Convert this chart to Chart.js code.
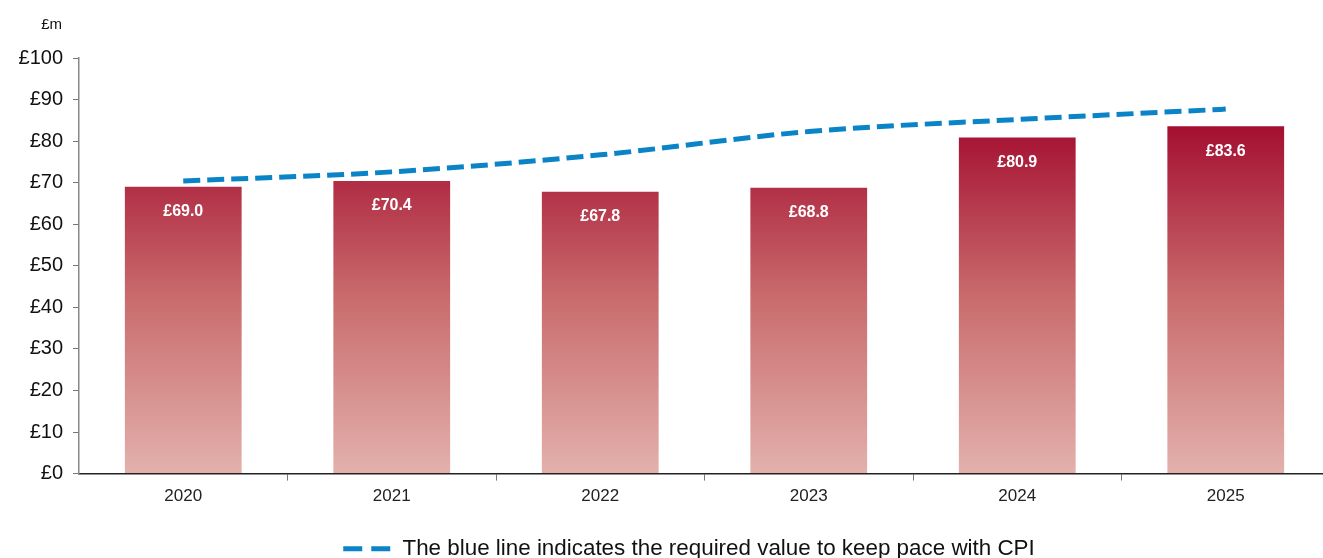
<!DOCTYPE html>
<html>
<head>
<meta charset="utf-8">
<script src="https://cdn.jsdelivr.net/npm/chart.js@4.4.1/dist/chart.umd.min.js"></script>
<style>
  html, body { margin: 0; padding: 0; background: #fff; overflow: hidden; }
  #wrap { width: 1330px; height: 558px; position: relative; }
</style>
</head>
<body>
<div id="wrap"><canvas id="myChart"></canvas></div>
<script>
(function () {
  'use strict'

  // Data
  var years = ['2020', '2021', '2022', '2023', '2024', '2025']
  var actualValues = [69.0, 70.4, 67.8, 68.8, 80.9, 83.6]
  var cpiValues = [70.4, 72.6, 76.7, 82.3, 85.2, 87.7]
  var yTicks = [0, 10, 20, 30, 40, 50, 60, 70, 80, 90, 100]
  var legendText = 'The blue line indicates the required value to keep pace with CPI'

  var FONT = "'Liberation Sans', Arial, sans-serif"

  function barGradient(context) {
    var chart = context.chart
    var area = chart.chartArea
    if (!area) return '#b3303f'
    var y = chart.scales.y
    var g = chart.ctx.createLinearGradient(0, y.getPixelForValue(0), 0, y.getPixelForValue(85))
    g.addColorStop(0, '#e3b1ac')
    g.addColorStop(0.5, '#c96b6d')
    g.addColorStop(1, '#a30c2f')
    return g
  }

  // white value labels inside the bars
  var barLabels = {
    id: 'barLabels',
    afterDatasetsDraw: function (chart) {
      var ctx = chart.ctx
      var meta = chart.getDatasetMeta(0)
      ctx.save()
      ctx.fillStyle = '#ffffff'
      ctx.font = 'bold 16px ' + FONT
      ctx.textAlign = 'center'
      ctx.textBaseline = 'middle'
      meta.data.forEach(function (bar, i) {
        ctx.fillText('£' + actualValues[i].toFixed(1), bar.x, bar.y + 25)
      })
      ctx.restore()
    }
  }

  // unit label above the y axis
  var unitLabel = {
    id: 'unitLabel',
    afterDraw: function (chart) {
      var ctx = chart.ctx
      ctx.save()
      ctx.fillStyle = '#111'
      ctx.font = '15px ' + FONT
      ctx.textAlign = 'right'
      ctx.textBaseline = 'middle'
      ctx.fillText('£m', 62, 25)
      ctx.restore()
    }
  }

  // legend sits a bit right of the page centre in the original
  var legendShift = {
    id: 'legendShift',
    afterLayout: function (chart) {
      if (!chart.legend) return
      chart.legend.left += 24
      chart.legend.right += 24
    }
  }

  // eslint-disable-next-line no-unused-vars
  var myChart = new Chart(document.getElementById('myChart'), {
    type: 'bar',
    data: {
      labels: years,
      datasets: [{
        type: 'bar',
        label: 'Value',
        data: actualValues,
        backgroundColor: barGradient,
        barPercentage: 0.56,
        categoryPercentage: 1,
        order: 2
      }, {
        type: 'line',
        label: legendText,
        data: cpiValues,
        borderColor: '#0a84c6',
        backgroundColor: '#0a84c6',
        borderWidth: 5,
        borderDash: [17, 7],
        pointRadius: 0,
        pointStyle: 'line',
        cubicInterpolationMode: 'monotone',
        fill: false,
        order: 1
      }]
    },
    options: {
      responsive: true,
      maintainAspectRatio: false,
      animation: false,
      layout: { padding: { top: 58, left: 0, right: 0, bottom: -12 } },
      plugins: {
        tooltip: { enabled: false },
        legend: {
          position: 'bottom',
          labels: {
            usePointStyle: true,
            pointStyleWidth: 48,
            boxHeight: 20,
            color: '#111',
            font: { family: FONT, size: 22.4 },
            padding: 0,
            generateLabels: function (chart) {
              var items = Chart.defaults.plugins.legend.labels.generateLabels(chart)
              return items.filter(function (it) { return it.datasetIndex === 1 }).map(function (it) {
                it.lineDash = [19, 9]
                it.lineWidth = 5
                return it
              })
            }
          }
        }
      },
      scales: {
        x: {
          grid: {
            offset: true,
            drawOnChartArea: false,
            tickLength: 7,
            tickColor: function (c) { return c.index === 0 ? 'rgba(0,0,0,0)' : '#777' }
          },
          border: { color: '#222', width: 1.5 },
          ticks: { color: '#222', font: { family: FONT, size: 17 }, padding: 6 },
          afterFit: function (s) { s.height = 64 }
        },
        y: {
          min: 0,
          max: 100,
          afterBuildTicks: function (s) { s.ticks = yTicks.map(function (v) { return { value: v } }) },
          grid: { drawOnChartArea: false, tickLength: 6, tickColor: '#777' },
          border: { color: '#888', width: 1.5 },
          ticks: {
            color: '#111',
            font: { family: FONT, size: 20 },
            padding: 10,
            callback: function (v) { return '£' + v }
          },
          afterFit: function (s) { s.width = 79 }
        }
      }
    },
    plugins: [barLabels, unitLabel, legendShift]
  })
}())
</script>
</body>
</html>
